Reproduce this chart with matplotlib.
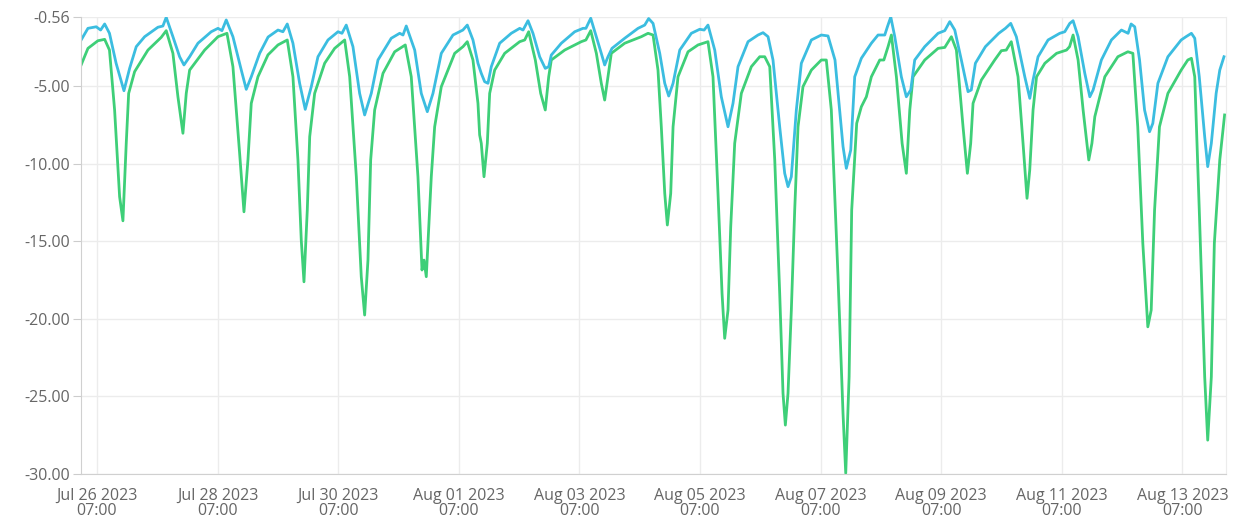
import matplotlib
matplotlib.use("Agg")
import matplotlib.pyplot as plt
import matplotlib.dates as mdates
import numpy as np
import pandas as pd

# time axis: days after 2023-07-26 00:00
start = pd.Timestamp("2023-07-26 00:00")

cyan_days = [0.03, 0.143, 0.28, 0.353, 0.42, 0.50, 0.61, 0.74, 0.834, 0.944,
             1.083, 1.303, 1.386, 1.441, 1.552, 1.663, 1.735, 1.829, 1.967,
             2.187, 2.299, 2.365, 2.436, 2.547, 2.685, 2.768, 2.851, 2.99,
             3.13, 3.294, 3.376, 3.448, 3.542, 3.653, 3.746, 3.846, 3.957,
             4.123, 4.289, 4.355, 4.426, 4.537, 4.648, 4.731, 4.841, 4.952,
             5.172, 5.312, 5.367, 5.421, 5.561, 5.67, 5.77, 5.864, 6.002,
             6.196, 6.36, 6.433, 6.527, 6.61, 6.665, 6.721, 6.776, 6.831, 6.97,
             7.162, 7.302, 7.357, 7.44, 7.522, 7.633, 7.726, 7.783, 7.826, 7.992,
             8.214, 8.352, 8.40, 8.48, 8.573, 8.655, 8.711, 8.766, 8.832,
             9.043, 9.264, 9.375, 9.44, 9.513, 9.624, 9.707, 9.773, 9.845, 9.956,
             10.148, 10.287, 10.36, 10.424, 10.536, 10.645, 10.756, 10.839, 10.922,
             11.088, 11.254, 11.337, 11.42, 11.502, 11.613, 11.696, 11.751, 11.806,
             11.889, 11.972, 12.138, 12.303, 12.414, 12.53, 12.663, 12.718, 12.791,
             12.857, 12.967, 13.133, 13.244, 13.355, 13.399, 13.455, 13.521, 13.63,
             13.713, 13.786, 13.852, 14.018, 14.239, 14.35, 14.433, 14.516, 14.625,
             14.736, 14.79, 14.858, 15.024, 15.245, 15.356, 15.444, 15.537, 15.677,
             15.76, 15.814, 15.897, 16.063, 16.257, 16.34, 16.423, 16.478, 16.561,
             16.672, 16.755, 16.81, 16.947, 17.113, 17.279, 17.39, 17.44, 17.50,
             17.58, 17.663, 17.746, 17.80, 17.884, 18.05, 18.27, 18.35, 18.44,
             18.495, 18.57, 18.66, 18.71, 18.77, 18.85, 18.91, 18.98]
cyan_vals = [-2.04, -1.29, -1.19, -1.40, -1.01, -1.61, -3.54, -5.31, -3.87, -2.47,
             -1.83, -1.22, -1.14, -0.58, -1.83, -3.12, -3.65, -3.12, -2.25,
             -1.51, -1.29, -1.44, -0.75, -1.83, -3.97, -5.22, -4.41, -2.90,
             -1.85, -1.40, -1.51, -1.01, -2.25, -4.83, -6.51, -5.05, -3.12,
             -2.04, -1.51, -1.61, -1.08, -2.47, -5.48, -6.87, -5.48, -3.33,
             -1.93, -1.61, -1.72, -1.14, -2.69, -5.48, -6.66, -5.48, -2.90,
             -1.72, -1.40, -1.08, -2.04, -3.54, -4.19, -4.73, -4.83, -3.76, -2.25,
             -1.61, -1.29, -1.40, -0.80, -1.61, -3.12, -3.87, -3.76, -3.01, -2.25,
             -1.51, -1.29, -1.29, -0.64, -1.83, -2.90, -3.65, -3.12, -2.58,
             -1.93, -1.29, -1.08, -0.66, -0.97, -2.90, -4.83, -5.65, -4.83, -2.69,
             -1.61, -1.35, -1.40, -1.08, -2.69, -5.70, -7.63, -6.12, -3.76,
             -2.15, -1.72, -1.57, -1.83, -3.33, -7.63, -10.63, -11.49, -10.85,
             -6.55, -3.54, -2.04, -1.72, -1.78, -3.33, -8.90, -10.31, -9.13,
             -4.41, -3.22, -2.25, -1.72, -1.72, -1.19, -0.56, -1.83, -4.41,
             -5.70, -5.26, -3.33, -2.47, -1.61, -1.44, -0.86, -1.40, -3.33,
             -5.37, -5.26, -3.54, -2.47, -1.61, -1.29, -0.97, -1.83, -4.41,
             -5.80, -4.62, -3.12, -2.04, -1.61, -1.51, -0.97, -0.80, -1.83,
             -4.19, -5.70, -5.26, -3.33, -2.04, -1.40, -1.61, -1.01, -1.19,
             -3.33, -6.55, -7.95, -7.41, -4.83, -3.12, -2.04, -1.83, -1.61,
             -1.93, -4.41, -8.27, -10.20, -8.70, -5.48, -3.98, -3.12]

green_days = [0.03, 0.143, 0.308, 0.42, 0.50, 0.585, 0.668, 0.723, 0.778, 0.818,
              0.917, 1.138, 1.358, 1.441, 1.552, 1.635, 1.718, 1.773, 1.829,
              2.078, 2.299, 2.448, 2.547, 2.658, 2.73, 2.796, 2.851, 2.962,
              3.128, 3.294, 3.448, 3.542, 3.625, 3.68, 3.725, 3.78, 3.82, 3.902,
              4.068, 4.234, 4.40, 4.483, 4.593, 4.675, 4.731, 4.786, 4.831, 4.897,
              5.035, 5.229, 5.405, 5.504, 5.615, 5.682, 5.715, 5.753, 5.836, 5.892,
              6.002, 6.224, 6.362, 6.433, 6.527, 6.61, 6.638, 6.665, 6.71, 6.765,
              6.804, 6.887, 7.053, 7.302, 7.385, 7.451, 7.561, 7.65, 7.726, 7.783,
              7.826, 8.048, 8.323, 8.40, 8.48, 8.573, 8.655, 8.711, 8.766, 8.821,
              9.043, 9.318, 9.43, 9.513, 9.595, 9.65, 9.707, 9.75, 9.806, 9.845,
              9.927, 10.093, 10.259, 10.424, 10.507, 10.59, 10.657, 10.701, 10.756,
              10.801, 10.867, 10.977, 11.143, 11.282, 11.365, 11.448, 11.531, 11.613,
              11.668, 11.707, 11.751, 11.806, 11.862, 11.917, 11.999, 12.138, 12.303,
              12.386, 12.469, 12.58, 12.663, 12.708, 12.764, 12.807, 12.89, 12.967,
              13.05, 13.133, 13.272, 13.34, 13.41, 13.465, 13.548, 13.643, 13.713,
              13.77, 13.824, 14.018, 14.239, 14.35, 14.46, 14.543, 14.653, 14.725,
              14.78, 14.819, 14.957, 15.178, 15.289, 15.37, 15.453, 15.565, 15.648,
              15.714, 15.759, 15.814, 15.872, 16.01, 16.204, 16.369, 16.42, 16.478,
              16.561, 16.644, 16.738, 16.79, 16.838, 17.004, 17.22, 17.386, 17.469,
              17.55, 17.634, 17.717, 17.773, 17.829, 17.91, 18.05, 18.27, 18.38,
              18.44, 18.495, 18.57, 18.66, 18.71, 18.77, 18.82, 18.91, 18.99]
green_vals = [-3.65, -2.58, -2.09, -2.00, -2.69, -6.55, -12.14, -13.69, -8.70, -5.48,
              -4.08, -2.69, -1.87, -1.44, -2.90, -5.70, -8.05, -5.48, -3.98,
              -2.69, -1.83, -1.61, -3.76, -9.34, -13.11, -9.77, -6.12, -4.41,
              -3.00, -2.36, -2.04, -4.41, -9.77, -14.93, -17.62, -12.99, -8.27, -5.48,
              -3.54, -2.58, -2.04, -4.41, -10.85, -17.29, -19.76, -16.22, -9.77, -6.55,
              -4.19, -2.80, -2.36, -4.41, -10.85, -16.86, -16.22, -17.29, -10.85, -7.63,
              -5.05, -2.90, -2.47, -2.15, -3.33, -6.12, -8.16, -8.70, -10.85, -8.70,
              -5.48, -3.98, -2.90, -2.15, -2.04, -1.51, -3.33, -5.48, -6.55, -4.41,
              -3.33, -2.69, -2.15, -2.04, -1.44, -2.90, -4.83, -5.91, -4.41, -2.90,
              -2.25, -1.83, -1.61, -1.72, -3.98, -7.63, -11.92, -13.96, -11.92, -7.63,
              -4.41, -2.80, -2.36, -2.15, -4.41, -11.92, -18.36, -21.26, -19.44,
              -14.07, -8.70, -5.48, -3.76, -3.12, -3.12, -3.76, -9.77, -18.36,
              -24.80, -26.85, -24.80, -19.44, -12.99, -7.63, -5.05, -3.98, -3.33,
              -3.33, -6.55, -17.29, -26.10, -29.95, -23.74, -12.99, -7.41, -6.34,
              -5.70, -4.41, -3.33, -3.33, -2.47, -1.72, -4.41, -8.70, -10.63,
              -6.55, -4.41, -3.33, -2.58, -2.52, -1.83, -2.69, -7.63, -10.63,
              -8.70, -6.12, -4.62, -3.33, -2.73, -2.69, -2.15, -4.41, -8.70,
              -12.24, -10.42, -6.55, -4.41, -3.54, -2.90, -2.69, -2.47, -1.72,
              -3.33, -6.55, -9.77, -8.70, -6.98, -4.41, -3.12, -2.80, -2.90,
              -7.63, -15.14, -20.52, -19.44, -12.99, -7.63, -5.48, -3.98, -3.33,
              -3.22, -4.41, -12.99, -23.74, -27.82, -23.74, -15.14, -9.77, -6.87]

y_ticks = [-0.56, -5, -10, -15, -20, -25, -30]
x_tick_days = [0.2917 + 2 * i for i in range(10)]  # every 2 days at 07:00

cyan_t = start + pd.to_timedelta(cyan_days, unit="D")
green_t = start + pd.to_timedelta(green_days, unit="D")
tick_t = start + pd.to_timedelta(x_tick_days, unit="D")

plt.rcParams['font.family'] = ['Open Sans', 'DejaVu Sans']

fig = plt.figure(figsize=(12.34, 5.23), dpi=100)
ax = fig.add_axes([0.0656, 0.0937, 0.928, 0.8738])

ax.plot(green_t, green_vals, color="#3ecf78", lw=2.0, solid_joinstyle="round")
ax.plot(cyan_t, cyan_vals, color="#3bbde0", lw=2.0, solid_joinstyle="round")

ax.set_ylim(-30, -0.56)
ax.set_xlim(start + pd.Timedelta(days=0.027), start + pd.Timedelta(days=19.015))
ax.set_yticks(y_ticks)
ax.set_yticklabels([f"{v:.2f}" for v in y_ticks])
ax.set_xticks(tick_t)
ax.xaxis.set_major_formatter(mdates.DateFormatter("%b %d %Y\n%H:%M"))

ax.grid(True, color="#ececec", lw=1)
ax.set_axisbelow(True)
ax.spines["top"].set_visible(False)
for s in ["left", "bottom"]:
    ax.spines[s].set_color("#d0d0d0")
ax.spines["right"].set_color("#ececec")

ax.tick_params(axis="y", length=6, color="#cccccc", pad=2, labelsize=11.5,
               labelcolor="#666666")
ax.tick_params(axis="x", length=0, pad=10, labelsize=11.5, labelcolor="#666666")
for lbl in ax.get_xticklabels():
    lbl.set_linespacing(0.95)

fig.savefig("out.png", dpi=100)
